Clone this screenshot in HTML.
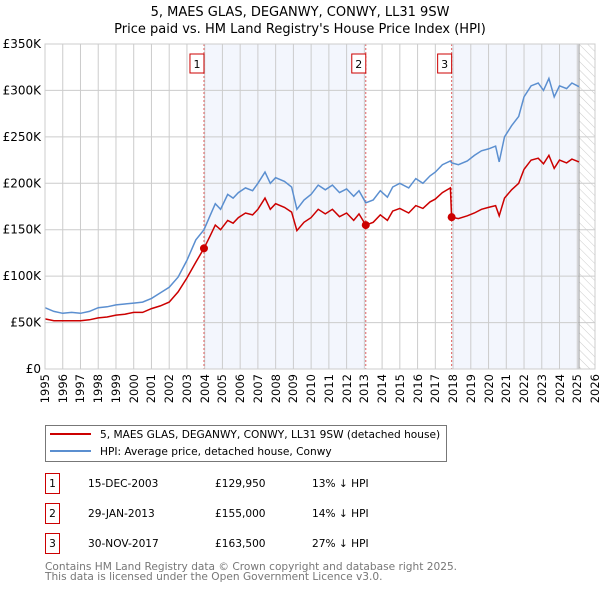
<!DOCTYPE html>
<html><head><meta charset="utf-8"><style>
body{margin:0;background:#fff;font-family:"Liberation Sans","DejaVu Sans",sans-serif;}
svg text{font-family:"DejaVu Sans","Liberation Sans",sans-serif;}
#wrap{position:relative;width:600px;height:590px;}
#wrap svg{position:absolute;left:0;top:0;}
.xl{position:absolute;font-family:"DejaVu Sans","Liberation Sans",sans-serif;font-size:11.5px;line-height:12px;width:40px;text-align:right;transform-origin:0 0;transform:rotate(-90deg);white-space:nowrap;}
</style></head><body>
<div id="wrap">
<svg width="600" height="590" xmlns="http://www.w3.org/2000/svg">
<defs><pattern id="hatch" width="6" height="6" patternUnits="userSpaceOnUse" patternTransform="rotate(-45)"><line x1="0" y1="0" x2="0" y2="6" stroke="#ccc" stroke-width="1"/></pattern></defs>
<text x="300" y="16" text-anchor="middle" font-size="13">5, MAES GLAS, DEGANWY, CONWY, LL31 9SW</text>
<text x="300" y="33" text-anchor="middle" font-size="13">Price paid vs. HM Land Registry's House Price Index (HPI)</text>
<g id="plot"></g>
<g id="legend">
<rect x="45.5" y="425.5" width="401" height="36" fill="#fff" stroke="#777"/>
<line x1="50" y1="434" x2="91" y2="434" stroke="#cc0000" stroke-width="2"/>
<text x="100" y="438" font-size="10.6">5, MAES GLAS, DEGANWY, CONWY, LL31 9SW (detached house)</text>
<line x1="50" y1="451" x2="91" y2="451" stroke="#5b8fd0" stroke-width="2"/>
<text x="100" y="455" font-size="10.6">HPI: Average price, detached house, Conwy</text>
</g>
<g id="table" font-size="10.6"></g>
<text x="45" y="570" font-size="10.6" fill="#777">Contains HM Land Registry data © Crown copyright and database right 2025.</text>
<text x="45" y="580" font-size="10.6" fill="#777">This data is licensed under the Open Government Licence v3.0.</text>
</svg>
</div>
<script>
const hpiYears=[1995,1995.5,1996,1996.5,1997,1997.5,1998,1998.5,1999,1999.5,2000,2000.5,2001,2001.5,2002,2002.5,2003,2003.5,2003.96,2004.3,2004.6,2004.9,2005.3,2005.6,2005.9,2006.3,2006.7,2007.0,2007.4,2007.7,2008.0,2008.5,2008.9,2009.2,2009.6,2010.0,2010.4,2010.8,2011.2,2011.6,2012.0,2012.4,2012.7,2013.08,2013.5,2013.9,2014.3,2014.6,2015.0,2015.5,2015.9,2016.3,2016.7,2017.0,2017.4,2017.85,2017.92,2018.3,2018.8,2019.2,2019.6,2020.0,2020.4,2020.6,2020.9,2021.3,2021.7,2022.0,2022.4,2022.8,2023.1,2023.4,2023.7,2024.0,2024.4,2024.7,2025.1];
const hpiValues=[66,62,60,61,60,62,66,67,69,70,71,72,76,82,88,99,117,139,150,165,178,172,188,184,190,195,192,200,212,200,206,202,196,172,182,188,198,193,198,190,194,186,192,179,182,192,185,196,200,195,205,200,208,212,220,224,222,220,224,230,235,237,240,223,250,262,272,293,305,308,300,313,293,305,302,308,304];
const priceValues=[54,52,52,52,52,53,55,56,58,59,61,61,65,68,72,83,98,115,129.95,143,155,150,160,157,163,168,166,172,184,172,178,174,169,149,158,163,172,167,172,164,168,160,167,155,158,166,160,170,173,168,176,173,180,183,190,195,163.5,162,165,168,172,174,176,165,184,193,200,215,225,227,221,230,216,225,222,226,223];
const saleLabels=["1","2","3"];
const saleYears=[2003.96,2013.08,2017.92];
const salePrices=[129950,155000,163500];
const saleDates=["15-DEC-2003","29-JAN-2013","30-NOV-2017"];
const salePriceText=["£129,950","£155,000","£163,500"];
const saleDiff=["13% ↓ HPI","14% ↓ HPI","27% ↓ HPI"];
const yTicks=[0,50,100,150,200,250,300,350];
const yTickLabels=["£0","£50K","£100K","£150K","£200K","£250K","£300K","£350K"];
const dataEnd=2025.1;

const NS="http://www.w3.org/2000/svg";
const X0=45,X1=595,Y0=369,Y1=44;
const xS=y=>X0+(y-1995)/(2026-1995)*(X1-X0);
const yS=v=>Y0-v/350*(Y0-Y1);
function mk(tag,attrs,parent){const e=document.createElementNS(NS,tag);for(const k in attrs)e.setAttribute(k,attrs[k]);parent.appendChild(e);return e;}
const g=document.getElementById('plot');
const wrap=document.getElementById('wrap');
let e;
e=mk('rect',{x:xS(saleYears[0]),y:Y1,width:xS(saleYears[1])-xS(saleYears[0]),height:Y0-Y1,fill:'#f3f6fd'},g);


e=mk('rect',{x:xS(saleYears[2]),y:Y1,width:xS(dataEnd)-xS(saleYears[2]),height:Y0-Y1,fill:'#f3f6fd'},g);


e=mk('rect',{x:xS(dataEnd),y:Y1,width:X1-xS(dataEnd),height:Y0-Y1,fill:'url(#hatch)'},g);


for(let yr=1995;yr<=2026;yr++){
 e=mk('line',{x1:xS(yr),x2:xS(yr),y1:Y1,y2:Y0,stroke:'#ccc','stroke-width':1},g);
 
 
 const dv=document.createElement('div');
 dv.className='xl';
 dv.textContent=yr;
 dv.style.left=(xS(yr)-6)+'px';
 dv.style.top='414px';
 
 
 wrap.appendChild(dv);
}
yTicks.forEach((t,i)=>{
 e=mk('line',{x1:X0,x2:X1,y1:yS(t),y2:yS(t),stroke:'#ccc','stroke-width':1},g);
 
 
 e=mk('text',{x:X0-4,y:yS(t)+4,'font-size':12,'text-anchor':'end'},g);
 e.textContent=yTickLabels[i];
 
 
});
e=mk('line',{x1:xS(dataEnd),x2:xS(dataEnd),y1:Y1,y2:Y0,stroke:'#999','stroke-width':1},g);


saleYears.forEach((s,i)=>{
 e=mk('line',{x1:xS(s),x2:xS(s),y1:Y1,y2:Y0,stroke:'#e06060','stroke-width':1,'stroke-dasharray':'2,2'},g);
 
 
 e=mk('rect',{x:xS(s)-14,y:54,width:14,height:19,fill:'#fff',stroke:'#cc0000'},g);
 
 
 e=mk('text',{x:xS(s)-7,y:68,'font-size':11,'text-anchor':'middle'},g);
 e.textContent=saleLabels[i];
 
 
});
let d=hpiYears.map((y,i)=>(i?'L':'M')+xS(y).toFixed(1)+','+yS(hpiValues[i]).toFixed(1)).join('');
e=mk('path',{d,fill:'none',stroke:'#5b8fd0','stroke-width':1.5},g);


d=hpiYears.map((y,i)=>(i?'L':'M')+xS(y).toFixed(1)+','+yS(priceValues[i]).toFixed(1)).join('');
e=mk('path',{d,fill:'none',stroke:'#cc0000','stroke-width':1.5},g);


saleYears.forEach((s,i)=>{
 e=mk('circle',{cx:xS(s),cy:yS(salePrices[i]/1000),r:4,fill:'#cc0000'},g);
 
 
});
e=mk('rect',{x:X0,y:Y1,width:X1-X0,height:Y0-Y1,fill:'none',stroke:'#ccc'},g);


const tb=document.getElementById('table');
saleLabels.forEach((l,i)=>{
 const cy=483+i*30;
 e=mk('rect',{x:45.5,y:cy-9.5,width:14,height:20,fill:'#fff',stroke:'#cc0000'},tb);
 
 
 e=mk('text',{x:52.5,y:cy+4,'text-anchor':'middle'},tb);e.textContent=l;
 
 
 e=mk('text',{x:88,y:cy+4},tb);e.textContent=saleDates[i];
 
 
 e=mk('text',{x:215,y:cy+4},tb);e.textContent=salePriceText[i];
 
 
 e=mk('text',{x:312,y:cy+4},tb);e.textContent=saleDiff[i];
 
 
});
</script>
</body></html>
